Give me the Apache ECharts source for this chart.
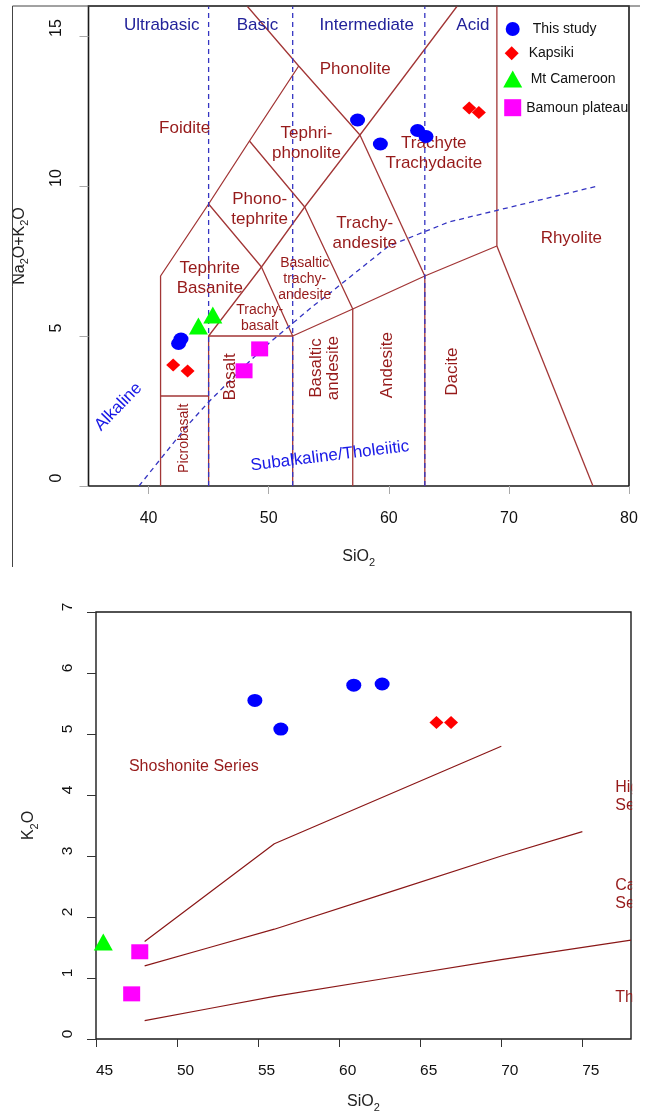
<!DOCTYPE html>
<html><head><meta charset="utf-8">
<script src="https://cdn.jsdelivr.net/npm/echarts@6/dist/echarts.min.js"></script>
<style>html,body{margin:0;padding:0;background:#fff}#c{width:650px;height:1114px}</style>
</head><body><div id="c"></div>
<script>
// ---------- DATA: TAS diagram (top) ----------
const tasThisStudy = [[57.4,12.2],[59.3,11.4],[62.4,11.85],[63.1,11.65],[42.5,4.75],[42.7,4.9]];
const tasKapsiki   = [[66.7,12.6],[67.5,12.45],[42.05,4.03],[43.25,3.83]];
const tasCameroon  = [[44.15,5.33],[45.35,5.7]];
const tasBamoun    = [[49.25,4.57],[47.95,3.84]];

// field boundaries (SiO2, Na2O+K2O)
const tasBoundaries = [
  [[41,0],[41,7],[45,9.4],[48.4,11.5],[52.5,14]],
  [[48.2,16],[52.5,14],[57.6,11.7]],
  [[45,5],[49.4,7.3],[53,9.3],[57.6,11.7],[61,13.5],[65.7,16]],
  [[41,3],[45,3]],
  [[45,0],[45,5],[52,5],[57,5.9],[63,7],[69,8],[69,16]],
  [[52,0],[52,5]],
  [[57,0],[57,5.9]],
  [[63,0],[63,7]],
  [[69,8],[77,0]],
  [[45,9.4],[49.4,7.3],[52,5]],
  [[48.4,11.5],[53,9.3],[57,5.9]],
  [[57.6,11.7],[63,7]]
];
const silicaDividers = [45, 52, 63];
const alkalineCurve = [[39.2,0],[40,0.4],[43.2,2],[45,2.8],[48,4],[50,4.75],[53.7,6],[55,6.4],[60,8],[65,8.8],[77.4,10]];

const tasFieldLabels = [
  [43.0,11.92,'Foidite'],[57.2,13.89,'Phonolite'],[53.15,11.41,'Tephri-\nphonolite'],
  [63.75,11.09,'Trachyte\nTrachydacite'],[49.25,9.22,'Phono-\ntephrite'],[58.0,8.43,'Trachy-\nandesite'],
  [75.2,8.26,'Rhyolite'],[45.1,6.92,'Tephrite\nBasanite']
];
const tasVerticalLabels = [[46.83,3.64,'Basalt'],[54.69,3.93,'Basaltic\nandesite'],[59.9,4.03,'Andesite'],[65.25,3.81,'Dacite']];
const tasSmallLabels = [[53.0,6.91,'Basaltic\ntrachy-\nandesite'],[49.25,5.59,'Trachy-\nbasalt']];
const tasSmallVertical = [[42.95,1.59,'Picrobasalt']];
const silicaClassLabels = [[41.1,15.37,'Ultrabasic'],[49.07,15.37,'Basic'],[58.17,15.37,'Intermediate'],[67.0,15.37,'Acid']];
const seriesLabels = [[37.49,2.64,'Alkaline',46],[55.1,1.0,'Subalkaline/Tholeiitic',7]];
const tasXTicks = [40,50,60,70,80];
const tasYTicks = [0,5,10,15];

// ---------- DATA: K2O vs SiO2 (bottom) ----------
const k2oThisStudy = [[54.8,5.55],[56.4,5.08],[60.9,5.8],[62.65,5.82]];
const k2oKapsiki   = [[66.0,5.19],[66.9,5.19]];
const k2oCameroon  = [[45.45,1.59]];
const k2oBamoun    = [[47.7,1.43],[47.2,0.74]];
const k2oBoundaries = [
  [[48,1.6],[56,3.2],[70,4.8]],
  [[48,1.2],[52,1.5],[56,1.8],[63,2.4],[70,3.0],[75,3.4]],
  [[48,0.3],[52,0.5],[56,0.7],[63,1.0],[70,1.3],[78,1.62]]
];
const k2oFieldLabels = [[47.0,4.47,'Shoshonite Series'],[77.0,3.97,'High-K\nSeries'],[77.0,2.36,'Calc-alkaline\nSeries'],[77.0,0.68,'Tholeiite Series']];
const k2oXTicks = [45,50,55,60,65,70,75];
const k2oYTicks = [0,1,2,3,4,5,6,7];

// ---------- styling ----------
const FONT = 'Liberation Sans, Arial, Helvetica, sans-serif';
const RED_TXT = '#961A1A';
const RED_LINE = '#A23636';
const NAVY = '#22229A';
const BLUE = '#1818E6';
const DASH = '#3434C2';

const series = [];
function line(pts, gi, color, width, dash, z) {
  series.push({type:'line', xAxisIndex:gi, yAxisIndex:gi, data:pts, showSymbol:false, symbol:'none',
    silent:true, clip:true, z:z, animation:false,
    lineStyle:{color:color, width:width, type: dash ? [5,4] : 'solid'}, emphasis:{disabled:true}});
}
function labels(items, gi, opt) {
  series.push({type:'scatter', xAxisIndex:gi, yAxisIndex:gi, symbolSize:1, silent:true, z:opt.z||6, clip:false,
    itemStyle:{color:'rgba(0,0,0,0)', opacity:1}, animation:false, emphasis:{disabled:true},
    data: items.map(it => ({value:[it[0],it[1]], name:it[2], label:{rotate: it[3] !== undefined ? it[3] : (opt.rotate||0)}})),
    label:{show:true, position:opt.position||'inside', distance:0, formatter:p=>p.name, color:opt.color, opacity:1,
      fontSize:opt.size, lineHeight:opt.lh, fontFamily:FONT, align: opt.align||'center'}});
}
function points(name, data, gi, symbol, size, color) {
  series.push({type:'scatter', name:name, xAxisIndex:gi, yAxisIndex:gi, data:data, symbol:symbol, symbolSize:size,
    itemStyle:{color:color, opacity:1}, clip:false, z:10, animation:false, emphasis:{disabled:true}});
}

// top boundaries
tasBoundaries.forEach(b => line(b, 0, RED_LINE, 1.3, false, 2));
silicaDividers.forEach(x => line([[x,0],[x,16]], 0, DASH, 1.3, true, 3));
line(alkalineCurve, 0, DASH, 1.3, true, 3);
labels(tasFieldLabels, 0, {color:RED_TXT, size:17, lh:20});
labels(tasVerticalLabels, 0, {color:RED_TXT, size:17, lh:17, rotate:90});
labels(tasSmallLabels, 0, {color:RED_TXT, size:14, lh:16});
labels(tasSmallVertical, 0, {color:RED_TXT, size:14, lh:16, rotate:90});
labels(silicaClassLabels, 0, {color:NAVY, size:17, lh:20});
labels(seriesLabels, 0, {color:BLUE, size:17, lh:20});
points('This study', tasThisStudy, 0, 'circle', [15,13], '#0000FF');
points('Kapsiki', tasKapsiki, 0, 'diamond', [14,13], '#FF0000');
points('Mt Cameroon', tasCameroon, 0, 'triangle', [19,17], '#00FF00');
points('Bamoun plateau', tasBamoun, 0, 'rect', [17,15], '#FF00FF');

// bottom
k2oBoundaries.forEach(b => line(b, 1, '#8A1717', 1.2, false, 2));
labels(k2oFieldLabels, 1, {color:RED_TXT, size:16, lh:18, position:'right', align:'left'});
points('This study', k2oThisStudy, 1, 'circle', [15,13], '#0000FF');
points('Kapsiki', k2oKapsiki, 1, 'diamond', [14,13], '#FF0000');
points('Mt Cameroon', k2oCameroon, 1, 'triangle', [19,17], '#00FF00');
points('Bamoun plateau', k2oBamoun, 1, 'rect', [17,15], '#FF00FF');

const sub = {a:{fontSize:16, lineHeight:22, fontFamily:FONT, color:'#222'}, s:{fontSize:11, verticalAlign:'bottom', fontFamily:FONT, color:'#222'}};

function legendItem(name, icon, left, top, w, h, pad) {
  return {data:[{name:name, icon:icon}], left:left, top:top, itemWidth:w, itemHeight:h, selectedMode:false,
    orient:'vertical', padding:0, textStyle:{fontSize:14, fontFamily:FONT, color:'#111', padding:[0,0,0,pad]}};
}

const option = {
  backgroundColor:'#fff',
  animation:false,
  textStyle:{fontFamily:FONT},
  grid:[
    {left:88.5, top:6, width:540.5, height:480, show:true, borderColor:'#1a1a1a', borderWidth:1.6, backgroundColor:'transparent'},
    {left:96, top:612, width:535, height:428, show:true, borderColor:'#1a1a1a', borderWidth:1.4, backgroundColor:'transparent'}
  ],
  xAxis:[
    {gridIndex:0, type:'value', min:35, max:80, splitLine:{show:false}, axisLine:{show:false},
      axisTick:{show:true, customValues:tasXTicks, length:8, lineStyle:{color:'#aaa'}},
      axisLabel:{customValues:tasXTicks, fontSize:16, color:'#111', margin:25, fontFamily:FONT},
      name:'{a|SiO}{s|2}', nameLocation:'middle', nameGap:60, nameTextStyle:{rich:sub}},
    {gridIndex:1, type:'value', min:45, max:78, splitLine:{show:false}, axisLine:{show:false},
      axisTick:{show:true, customValues:k2oXTicks, length:8, lineStyle:{color:'#333'}},
      axisLabel:{customValues:k2oXTicks, fontSize:15.5, color:'#111', margin:24, padding:[0,0,0,17], fontFamily:FONT},
      name:'{a|SiO}{s|2}', nameLocation:'middle', nameGap:52, nameTextStyle:{rich:sub}}
  ],
  yAxis:[
    {gridIndex:0, type:'value', min:0, max:16, splitLine:{show:false}, axisLine:{show:false},
      axisTick:{show:true, customValues:tasYTicks, length:9, lineStyle:{color:'#aaa'}},
      axisLabel:{customValues:tasYTicks, fontSize:16, color:'#111', margin:24, rotate:90, padding:[0,0,0,16], fontFamily:FONT},
      name:'{a|Na}{s|2}{a|O+K}{s|2}{a|O}', nameLocation:'middle', nameGap:58, nameRotate:90, nameTextStyle:{rich:sub}},
    {gridIndex:1, type:'value', min:0, max:7, splitLine:{show:false}, axisLine:{show:false},
      axisTick:{show:true, customValues:k2oYTicks, length:9, lineStyle:{color:'#333'}},
      axisLabel:{customValues:k2oYTicks, fontSize:15.5, color:'#111', margin:20, rotate:90, padding:[0,0,0,10], fontFamily:FONT},
      name:'{a|K}{s|2}{a|O}', nameLocation:'middle', nameGap:56, nameRotate:90, nameTextStyle:{rich:sub}}
  ],
  legend:[
    legendItem('This study','circle',505.7,22,14,14,8),
    legendItem('Kapsiki','diamond',504.7,46.3,14,14,5),
    legendItem('Mt Cameroon','triangle',503.2,70.5,19,17,3.5),
    legendItem('Bamoun plateau','rect',504.2,99.2,17,17,0)
  ],
  graphic:[
    {type:'polyline', shape:{points:[[12.5,567],[12.5,6],[640,6]]}, style:{stroke:'#444', lineWidth:1, fill:null}, z:50, silent:true},
    {type:'rect', shape:{x:632.2, y:590, width:20, height:470}, style:{fill:'#fff'}, z:100, silent:true}
  ],
  series:series
};
const chart = echarts.init(document.getElementById('c'), null, {renderer:'canvas'});
chart.setOption(option);
</script></body></html>
